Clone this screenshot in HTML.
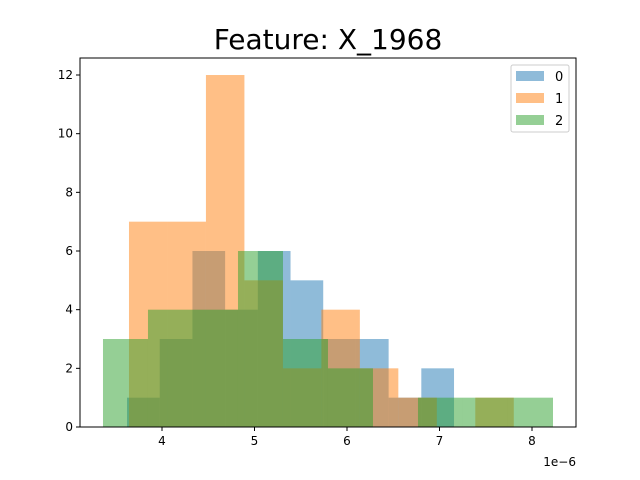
<!DOCTYPE html>
<html><head><meta charset="utf-8"><style>
body{margin:0;background:#fff;}
svg{display:block;font-family:"DejaVu Sans","Liberation Sans",sans-serif;}
</style></head><body>
<svg id="chart" width="640" height="480" viewBox="0 0 640 480">
<text x="328" y="49" font-size="28" text-anchor="middle">Feature: X_1968</text>
<g id="bars"></g>
<g id="axes"></g>
</svg>
<script>
const seriesNames=["0","1","2"];
const colors=["#1f77b4","#ff7f0e","#2ca02c"];
const binStarts=[3.622,3.643,3.362];
const binWidths=[0.3535,0.416,0.4865];
const counts0=[1,3,6,4,6,5,3,3,1,2];
const counts1=[7,7,12,5,2,4,2,1,0,1];
const counts2=[3,4,4,6,3,2,0,1,1,1];
const xTicks=[4,5,6,7,8];
const yTicks=[0,2,4,6,8,10,12];
const L=80,R=576,T=58,B=427;
const xMin=3.1135,xMax=8.4757,yMax=12.58;
const sx=v=>L+(v-xMin)/(xMax-xMin)*(R-L);
const sy=v=>B-v/yMax*(B-T);
const NS="http://www.w3.org/2000/svg";
const bars=document.getElementById('bars');
const axes=document.getElementById('axes');
function mk(tag,attrs,parent){const e=document.createElementNS(NS,tag);for(const k in attrs)e.setAttribute(k,attrs[k]);parent.appendChild(e);return e;}
[counts0,counts1,counts2].forEach((cs,s)=>{
  cs.forEach((c,i)=>{
    if(c<=0)return;
    const x0=sx(binStarts[s]+i*binWidths[s]),x1=sx(binStarts[s]+(i+1)*binWidths[s]);
    const r=mk('rect',{x:x0,y:sy(c),width:x1-x0,height:sy(0)-sy(c),fill:colors[s],'fill-opacity':0.5},bars);
    
    
  });
});
const frame=mk('rect',{x:L,y:T,width:R-L,height:B-T,fill:'none',stroke:'#000','stroke-width':1},axes);


xTicks.forEach(t=>{
  const x=sx(t);
  mk('line',{x1:x,x2:x,y1:B,y2:B+4,stroke:'#000'},axes);
  const tx=mk('text',{x:x,y:B+18,'font-size':12,'text-anchor':'middle'},axes);
  tx.textContent=t;
  
  
});
yTicks.forEach(t=>{
  const y=sy(t);
  mk('line',{x1:L,x2:L-4,y1:y,y2:y,stroke:'#000'},axes);
  const tx=mk('text',{x:L-7,y:y+4,'font-size':12,'text-anchor':'end'},axes);
  tx.textContent=t;
  
  
});
const off=mk('text',{x:576,y:466,'font-size':12,'text-anchor':'end'},axes);
off.textContent='1e−6';


const lg=mk('g',{},axes);


mk('rect',{x:511,y:65,width:58,height:67,rx:2,fill:'#fff','fill-opacity':0.8,stroke:'#ccc'},lg);
seriesNames.forEach((n,i)=>{
  const y=71+i*22;
  const p=mk('rect',{x:516,y:y,width:28,height:10,fill:colors[i],'fill-opacity':0.5},lg);
  
  
  const t=mk('text',{x:555,y:y+10,'font-size':13},lg);
  t.textContent=n;
  
  
});
</script>
</body></html>
